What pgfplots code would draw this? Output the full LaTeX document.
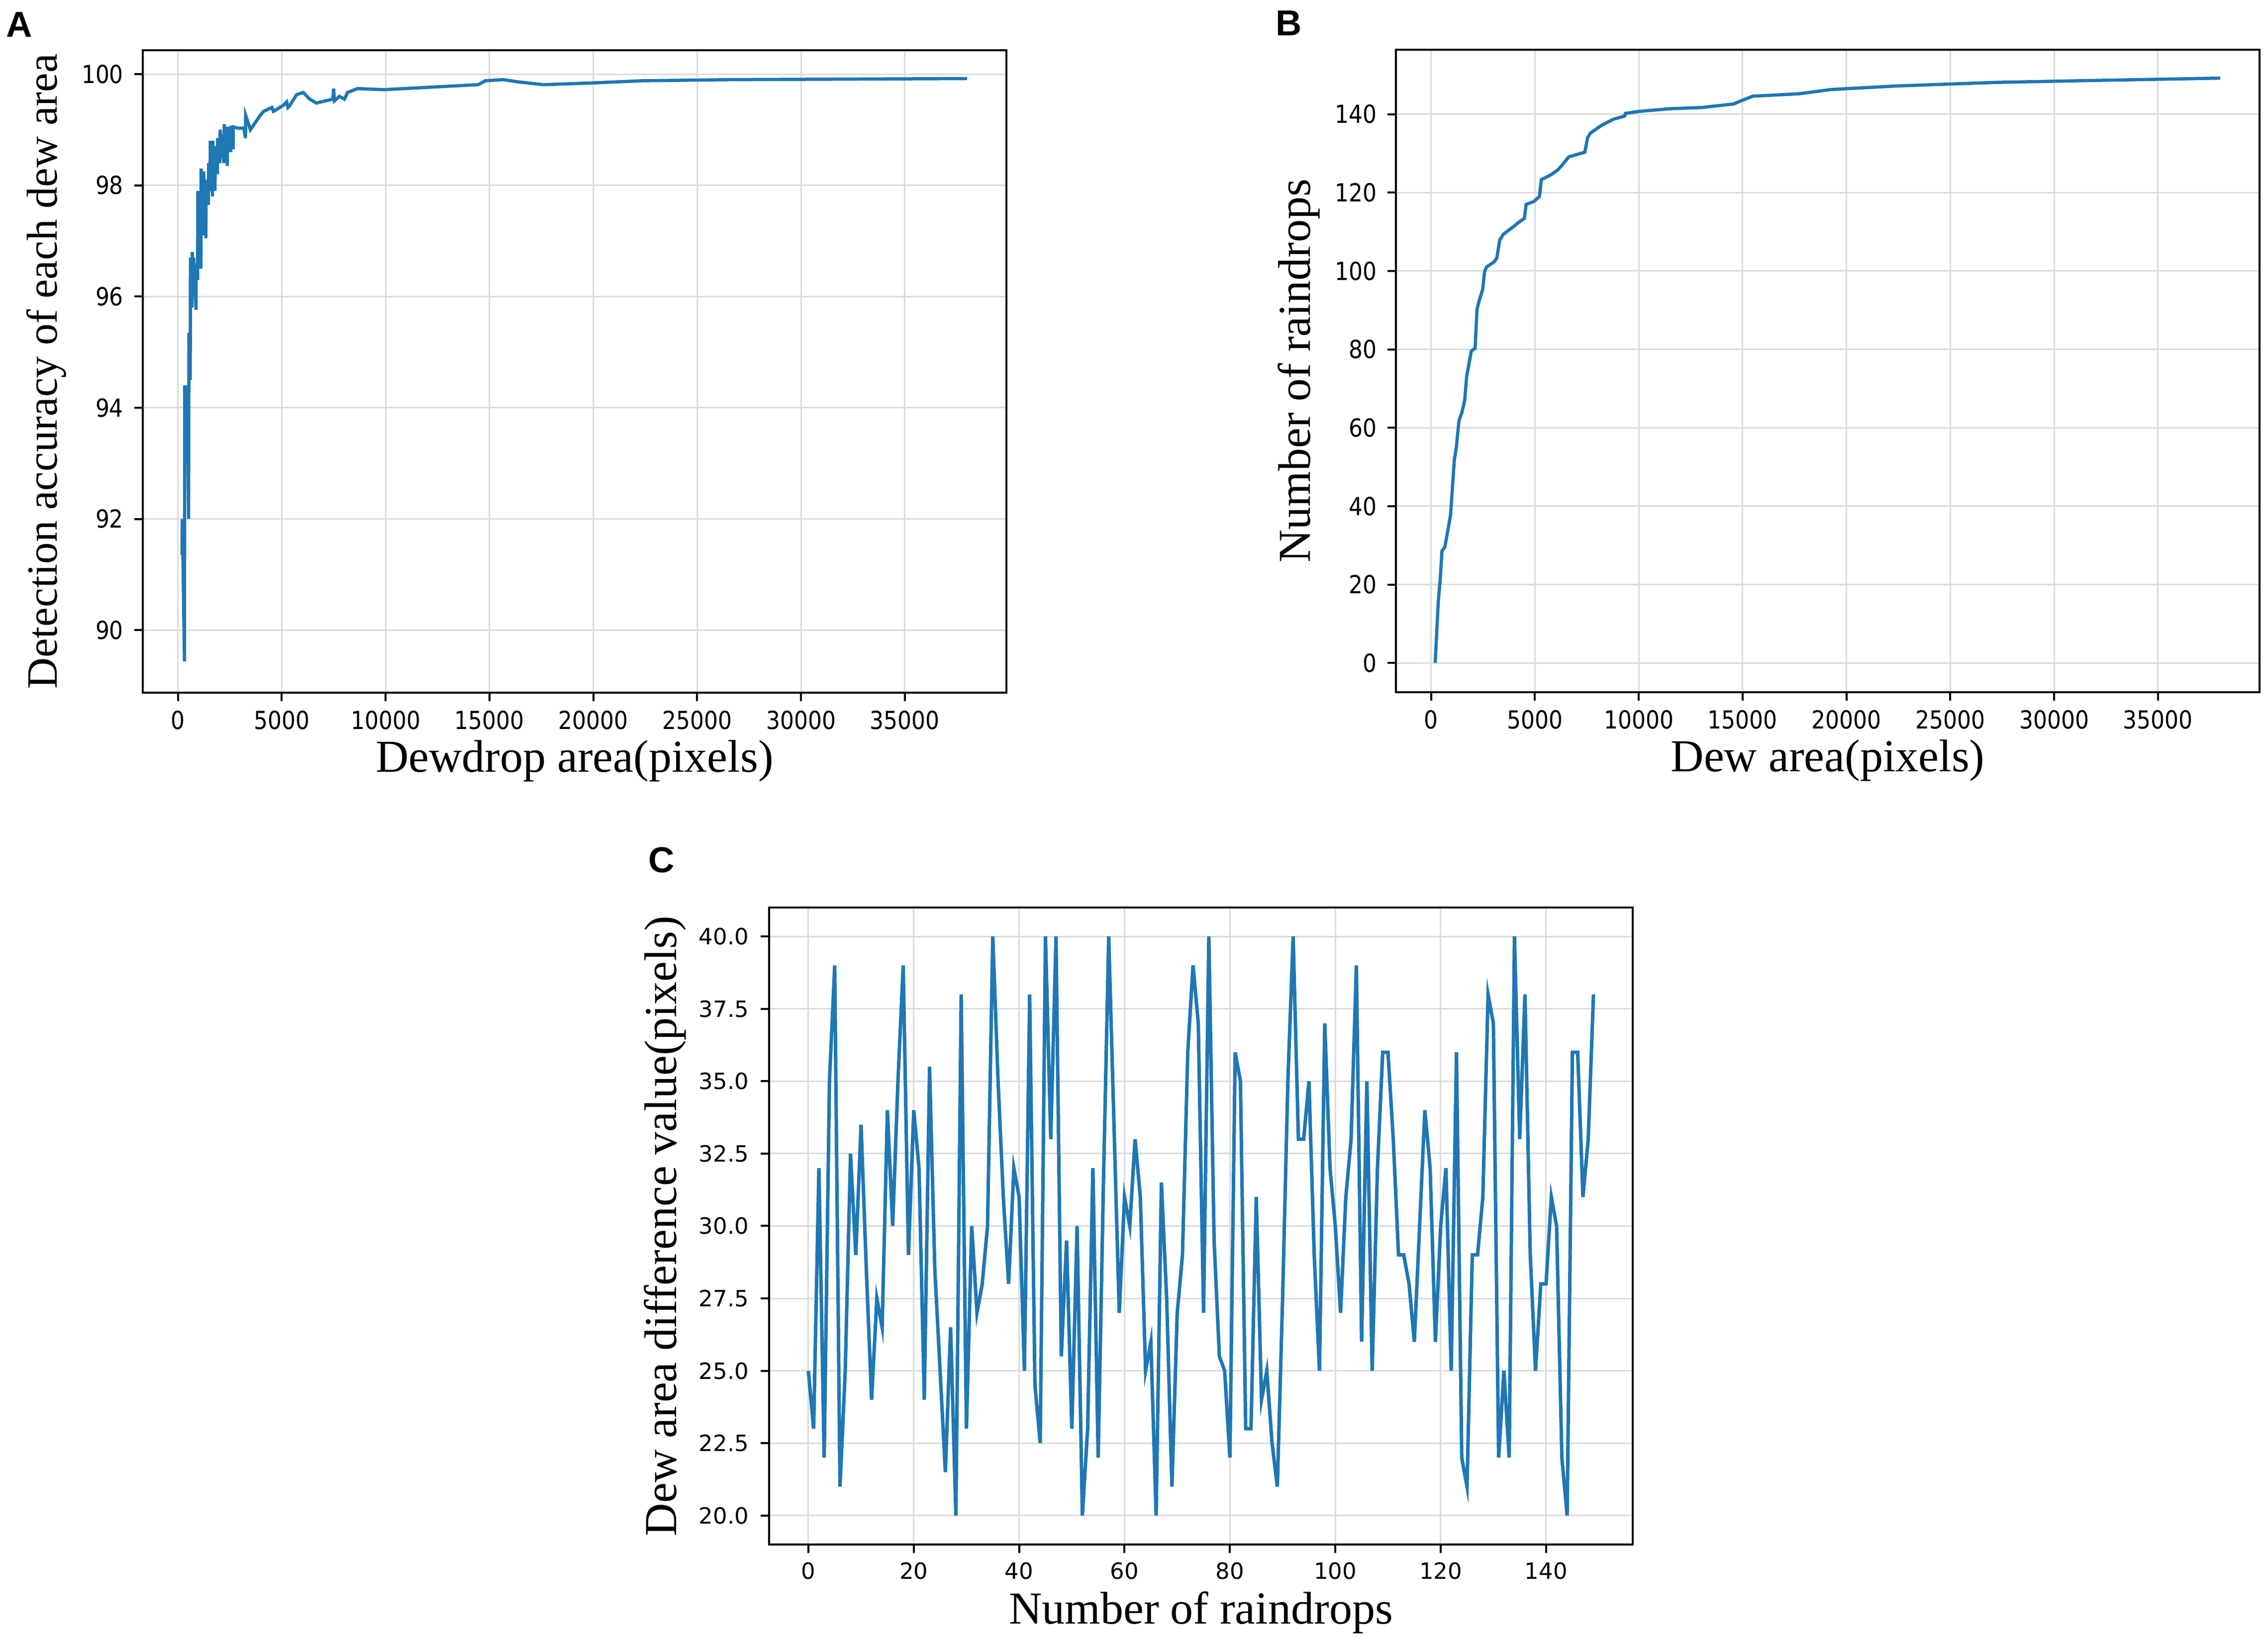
\documentclass[border=0pt]{standalone}
\usepackage{fontspec}
\setmainfont{Liberation Serif}
\newfontfamily\tickfontA[FakeStretch=0.88]{DejaVu Sans}
\newfontfamily\tickfontC{DejaVu Sans}
\newfontfamily\letterfont{Liberation Sans}
\usepackage{pgfplots}
\pgfplotsset{compat=1.18}
\definecolor{mplblue}{HTML}{1F77B4}
\pgfplotsset{
  panel/.style={
    scale only axis,
    width=347.2bp, height=258.4bp,
    anchor=south west,
    axis line style={line width=0.8bp, black},
    grid=major,
    major grid style={line width=0.6bp, color=black!14},
    tick align=outside,
    major tick length=3.4bp,
    every tick/.style={line width=0.8bp, black},
    xtick pos=left, ytick pos=left,
    scaled x ticks=false, scaled y ticks=false,
    /pgf/number format/assume math mode=true,
    /pgf/number format/1000 sep={},
    xticklabel style={anchor=north, inner sep=0pt, yshift=-3.6bp},
    yticklabel style={anchor=east, inner sep=0pt, xshift=-4.2bp},
    ticklabel style={font=\tickfontA\fontsize{10bp}{12bp}\selectfont},
    every axis x label/.style={at={([yshift=-32bp]axis description cs:0.5,0)}, anchor=base, font=\fontsize{18.4bp}{22bp}\selectfont},
    every axis y label/.style={at={([xshift=-34.5bp]axis description cs:0,0.5)}, rotate=90, anchor=base, font=\fontsize{18.4bp}{22bp}\selectfont},
  }
}
\pgfplotstableread{
x y
200 91.35
215 92.0
317 89.44
330 94.4
437 93.4
450 94.4
516 92.0
530 95.35
595 94.5
605 96.7
675 95.8
690 96.8
754 96.3
762 96.7
873 95.76
882 96.6
952 96.3
962 97.9
1032 96.6
1042 97.2
1111 96.5
1121 98.3
1230 97.1
1240 98.25
1349 97.05
1360 98.1
1468 97.65
1480 98.4
1548 97.9
1560 98.8
1667 97.8
1680 98.8
1786 97.9
1800 98.7
1905 98.2
1915 98.85
2024 98.4
2035 99.0
2222 98.4
2232 99.1
2381 98.35
2392 99.05
2540 98.6
2550 99.07
2659 98.65
2670 99.05
2857 99.03
3175 99.03
3254 98.85
3262 99.26
3492 99.0
3968 99.26
4127 99.33
4524 99.4
4603 99.33
5080 99.44
5238 99.5
5300 99.4
5397 99.44
5714 99.63
6032 99.67
6349 99.55
6667 99.48
7460 99.55
7500 99.74
7540 99.52
7778 99.6
8016 99.55
8175 99.67
8651 99.74
9905 99.72
14455 99.81
14805 99.88
15680 99.9
16380 99.86
17605 99.81
19880 99.84
22330 99.88
26530 99.9
38000 99.92
}\dataA
\pgfplotstableread{
x y
200 0
346 15.5
437 21
528 28.6
665 29.6
801 33.6
938 37.7
1029 44.7
1120 51.8
1211 54.8
1348 61.9
1485 63.9
1621 67
1712 73
1849 77
1940 79.6
2122 80.3
2213 90.2
2304 92.2
2486 95.3
2577 99.8
2668 101
3033 102.3
3169 103.3
3306 107.9
3488 109.4
3989 111.4
4216 112.4
4490 113.4
4581 117
4945 117.7
5218 119
5309 123.3
5765 124.5
6129 125.9
6402 127.6
6630 129.1
7404 130.3
7541 134.1
7677 135.2
8224 137.2
8770 138.7
9316 139.5
9362 140.2
9999 140.7
11502 141.4
13032 141.7
14560 142.6
14875 143.3
15500 144.6
17700 145.2
19280 146.3
22420 147.2
27140 148.1
31860 148.6
38000 149.2
}\dataB
\pgfplotstableread{
x y
0 25
1 23
2 32
3 22
4 35
5 39
6 21
7 25
8 32.5
9 29
10 33.5
11 28.5
12 24
13 27.5
14 26.5
15 34
16 30
17 35
18 39
19 29
20 34
21 32
22 24
23 35.5
24 28.5
25 25
26 21.5
27 26.5
28 20
29 38
30 23
31 30
32 27
33 28
34 30
35 40
36 35
37 31
38 28
39 32
40 31
41 25
42 38
43 24.5
44 22.5
45 40
46 33
47 40
48 25.5
49 29.5
50 23
51 30
52 20
53 23
54 32
55 22
56 31.5
57 40
58 33.5
59 27
60 31
61 30
62 33
63 31
64 25
65 26
66 20
67 31.5
68 27.5
69 21
70 27
71 29
72 36
73 39
74 37
75 27
76 40
77 29.5
78 25.5
79 25
80 22
81 36
82 35
83 23
84 23
85 31
86 24
87 25
88 22.5
89 21
90 27.5
91 35
92 40
93 33
94 33
95 35
96 29
97 25
98 37
99 32
100 30
101 27
102 31
103 33
104 39
105 26
106 35
107 25
108 32
109 36
110 36
111 33
112 29
113 29
114 28
115 26
116 30
117 34
118 32
119 26
120 30
121 32
122 25
123 36
124 22
125 21
126 29
127 29
128 31
129 38
130 37
131 22
132 25
133 22
134 40
135 33
136 38
137 29
138 25
139 28
140 28
141 31
142 30
143 22
144 20
145 36
146 36
147 31
148 33
149 38
}\dataC
\begin{document}
\begin{tikzpicture}
% Panel A
\begin{axis}[panel, at={(57.4bp,380.2bp)},
  xmin=-1690, xmax=39890, ymin=88.875, ymax=100.43,
  xtick={0,5000,...,35000}, ytick={90,92,...,100},
  xlabel={Dewdrop area(pixels)},
  ylabel={Detection accuracy of each dew area},
  ylabel style={font=\fontsize{17.4bp}{21bp}\selectfont}]
\addplot[mplblue, line width=1.3bp] table[x=x,y=y] {\dataA};
\end{axis}
% Panel B
\begin{axis}[panel, at={(561.2bp,380.4bp)},
  xmin=-1690, xmax=39890, ymin=-7.45, ymax=156.45,
  xtick={0,5000,...,35000}, ytick={0,20,...,140},
  xlabel={Dew area(pixels)},
  ylabel={Number of raindrops}]
\addplot[mplblue, line width=1.3bp] table[x=x,y=y] {\dataB};
\end{axis}
% Panel C
\begin{axis}[panel, at={(309.2bp,37.6bp)}, height=256.2bp,
  xmin=-7.45, xmax=156.45, ymin=19, ymax=41,
  xtick={0,20,...,140}, ytick={20,22.5,...,40},
  yticklabel style={xshift=-0.4bp, /pgf/number format/.cd, fixed, fixed zerofill, precision=1},
  ticklabel style={font=\tickfontC\fontsize{9bp}{11bp}\selectfont},
  every axis y label/.style={at={([xshift=-37.4bp]axis description cs:0,0.5)}, rotate=90, anchor=base, font=\fontsize{18.4bp}{22bp}\selectfont},
  xlabel={Number of raindrops},
  ylabel={Dew area difference value(pixels)}]
\addplot[mplblue, line width=1.4bp] table[x=x,y=y] {\dataC};
\end{axis}
\node[anchor=base west, inner sep=0pt, font=\letterfont\bfseries\fontsize{14.5bp}{17bp}\selectfont] at (2.4bp,643.8bp) {A};
\node[anchor=base west, inner sep=0pt, font=\letterfont\bfseries\fontsize{14.5bp}{17bp}\selectfont] at (512.6bp,644.4bp) {B};
\node[anchor=base west, inner sep=0pt, font=\letterfont\bfseries\fontsize{14.5bp}{17bp}\selectfont] at (260.4bp,307.8bp) {C};
\pgfresetboundingbox
\path (0,0) rectangle (911.8bp,658.8bp);
\end{tikzpicture}
\end{document}
